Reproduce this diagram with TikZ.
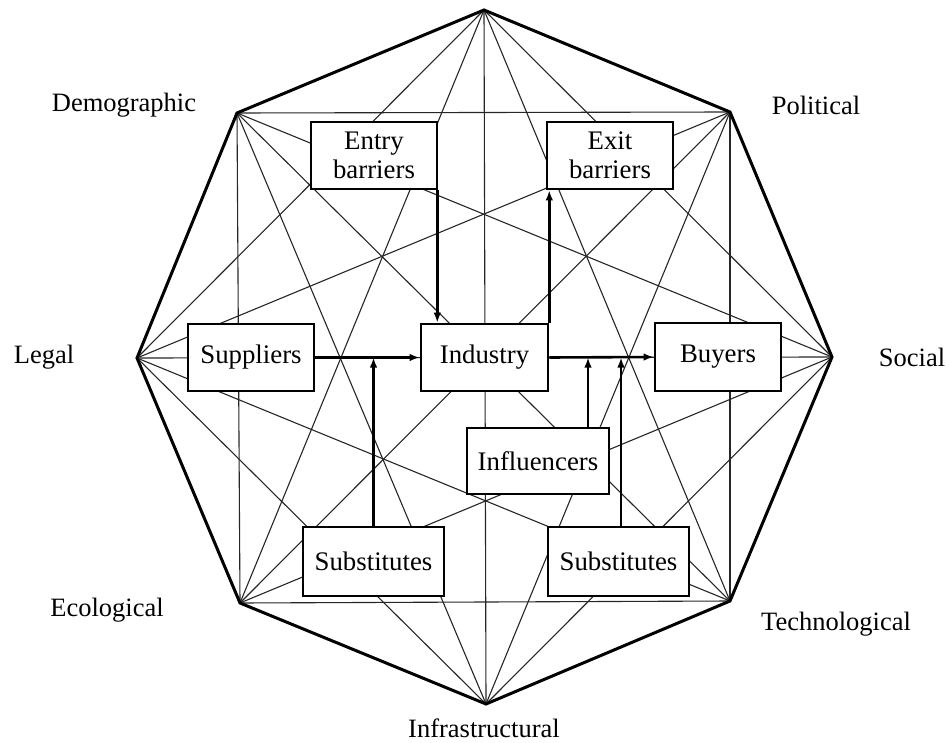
\documentclass[tikz,border=0pt]{standalone}
\usepackage{fontspec}
\setmainfont{Liberation Serif}
\usetikzlibrary{arrows.meta}
\begin{document}
\begin{tikzpicture}[x=1pt,y=-1pt,
  diag/.style={line width=1.1pt, black!85},
  rim/.style={line width=3pt, line join=miter},
  box/.style={draw, line width=2.6pt, fill=white, minimum width=126pt, minimum height=67pt, inner sep=0pt, align=center, font=\fontsize{26.8}{29.5}\selectfont},
  lab/.style={font=\fontsize{26.5}{29}\selectfont, inner sep=0pt},
  arr/.style={line width=2.6pt, -{Latex[length=10pt,width=7.5pt]}}]
\useasboundingbox (0,0) rectangle (949,743);
% octagon vertices
\coordinate (v1) at (484,10);
\coordinate (v2) at (730,112);
\coordinate (v3) at (832,357);
\coordinate (v4) at (730,601);
\coordinate (v5) at (486,704);
\coordinate (v6) at (240,603);
\coordinate (v7) at (137,358);
\coordinate (v8) at (237,113);
% all diagonals
\foreach \i in {1,...,8}{\foreach \j in {1,...,8}{\ifnum\i<\j \draw[diag] (v\i) -- (v\j);\fi}}
\draw[rim] (v1) -- (v2) -- (v3) -- (v4) -- (v5) -- (v6) -- (v7) -- (v8) -- cycle;
% labels
\node[lab] (lDem) at (124,105) {Demographic};
\node[lab] (lPol) at (816,105) {Political};
\node[lab] (lLeg) at (44,357) {Legal};
\node[lab] (lSoc) at (912,357) {Social};
\node[lab] (lEco) at (107,610) {Ecological};
\node[lab] (lTec) at (836,624) {Technological};
\node[lab] (lInf) at (484,728) {Infrastructural};
% boxes
\node[box] (entry) at (374,155.5) {Entry\\barriers};
\node[box] (exit) at (610,155.5) {Exit\\barriers};
\node[box] (sup) at (251,357.5) {Suppliers};
\node[box, minimum width=127pt] (ind) at (484.5,357.5) {Industry};
\node[box, minimum height=68pt] (buy) at (718,357) {\strut Buyers};
\node[box, minimum width=142pt, minimum height=66pt] (infl) at (538,461) {Influencers};
\node[box, minimum width=141pt, minimum height=69pt] (sub1) at (373.5,561.5) {Substitutes};
\node[box, minimum width=141pt, minimum height=69pt] (sub2) at (618.5,561.5) {Substitutes};
% arrows
\draw[arr] ([xshift=-1pt]entry.south east) -- ([xshift=-1pt]entry.south east |- ind.north);
\draw[arr] (ind.north east) -- (ind.north east |- exit.south);
\draw[arr] (sup.east) -- (ind.west);
\draw[arr] (ind.east) -- (buy.west);
\draw[arr] (sub1.north) -- (sub1.north |- sup.east);
\draw[arr] ([xshift=50pt]infl.north) -- ([xshift=50pt]infl.north |- ind.east);
\draw[arr] ([xshift=2.5pt]sub2.north) -- ([xshift=2.5pt]sub2.north |- ind.east);
\end{tikzpicture}
\end{document}
